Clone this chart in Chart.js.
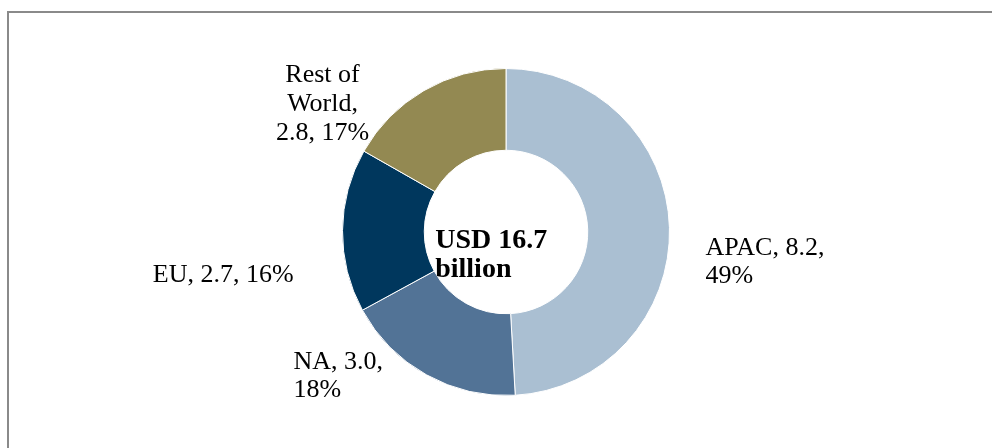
<!DOCTYPE html>
<html>
<head>
<meta charset="utf-8">
<script src="https://cdn.jsdelivr.net/npm/chart.js@4"></script>
<style>
  html, body { margin: 0; padding: 0; background: #fff; overflow: hidden; }
  #wrap { position: relative; width: 992px; height: 448px; }
  #frame { position: absolute; left: 7px; top: 11px; width: 1100px; height: 600px;
           border-top: 2px solid #8a8a8a; border-left: 2px solid #8a8a8a; box-sizing: border-box; }
  canvas { position: absolute; left: 0; top: 0; }
</style>
</head>
<body>
<div id="wrap">
  <div id="frame"></div>
  <canvas id="c" width="992" height="448"></canvas>
</div>
<script>
// ---- data ----
const categories = ['APAC', 'NA', 'EU', 'Rest of World'];
const values = [8.2, 3.0, 2.7, 2.8];
const currency = 'USD';
const unit = 'billion';

// ---- styling ----
const colors = ['#AABFD2', '#527396', '#00375D', '#938952'];
const FONT = "'Liberation Serif', 'Times New Roman', serif";

const total = values.reduce((a, b) => a + b, 0);
const labelTexts = categories.map((c, i) =>
  `${c}, ${values[i].toFixed(1)}, ${Math.round(values[i] / total * 100)}%`);

// label layout relative to ring center, in units of outer radius
// align: 'left' or 'center'; maxW in px for wrapping; lh line height
const labelLayout = [
  { dx: 1.220, dy: 0.140, align: 'left', maxW: 125, lh: 28 },
  { dx: -1.300, dy: 0.835, align: 'left', maxW: 100, lh: 28 },
  { dx: -2.160, dy: 0.305, align: 'left', maxW: 400, lh: 28 },
  { dx: -1.122, dy: -0.915, align: 'center', maxW: 100, lh: 29 }
];

function wrap(ctx, text, maxW) {
  const words = text.split(' ');
  const lines = [];
  let cur = '';
  for (const w of words) {
    const test = cur ? cur + ' ' + w : w;
    if (cur && ctx.measureText(test).width > maxW) { lines.push(cur); cur = w; }
    else cur = test;
  }
  if (cur) lines.push(cur);
  return lines;
}

const labelPlugin = {
  id: 'labels',
  afterDraw(chart) {
    const ctx = chart.ctx;
    const meta = chart.getDatasetMeta(0);
    const arc0 = meta.data[0];
    const cx = arc0.x, cy = arc0.y, R = arc0.outerRadius;
    ctx.save();
    ctx.fillStyle = '#000';
    ctx.textBaseline = 'alphabetic';
    ctx.font = `26px ${FONT}`;
    labelTexts.forEach((t, i) => {
      const L = labelLayout[i];
      const lines = wrap(ctx, t, L.maxW);
      ctx.textAlign = L.align;
      const x = cx + L.dx * R;
      const y = cy + L.dy * R;
      lines.forEach((ln, k) => ctx.fillText(ln, x, y + k * L.lh));
    });
    // center text
    ctx.font = `bold 28px ${FONT}`;
    ctx.textAlign = 'left';
    const tx = cx - 0.433 * R;
    ctx.fillText(`${currency} ${total.toFixed(1)}`, tx, cy + 16);
    ctx.fillText(unit, tx, cy + 45);
    ctx.restore();
  }
};

new Chart(document.getElementById('c'), {
  type: 'doughnut',
  data: {
    labels: categories,
    datasets: [{
      data: values,
      backgroundColor: colors,
      borderColor: '#ffffff',
      borderWidth: 1
    }]
  },
  options: {
    responsive: false,
    animation: false,
    devicePixelRatio: 1,
    cutout: '50%',
    layout: { padding: { left: 20, right: 0, top: 68, bottom: 52 } },
    plugins: { legend: { display: false }, tooltip: { enabled: false } }
  },
  plugins: [labelPlugin]
});
</script>
</body>
</html>
